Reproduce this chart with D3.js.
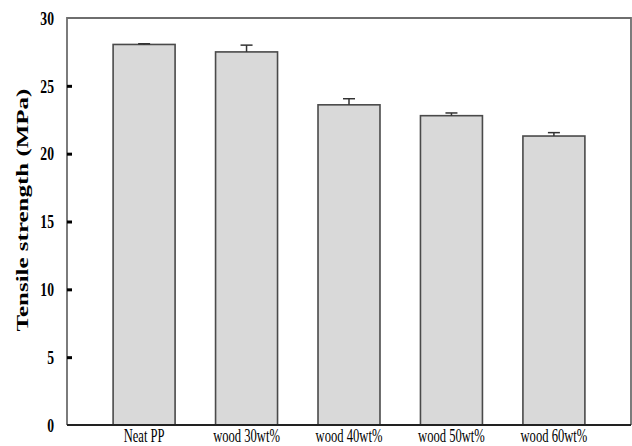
<!DOCTYPE html>
<html>
<head>
<meta charset="utf-8">
<script src="https://cdn.jsdelivr.net/npm/d3@7"></script>
<style>
  body { margin: 0; background: white; }
  svg { display: block; }
</style>
</head>
<body>
<div id="chart"></div>
<script>
const categories = ["Neat PP", "wood 30wt%", "wood 40wt%", "wood 50wt%", "wood 60wt%"];
const strength = [28.05, 27.5, 23.6, 22.8, 21.3];
const errors = [0.05, 0.5, 0.45, 0.2, 0.25];
const yTicks = [0, 5, 10, 15, 20, 25, 30];

const width = 632, height = 446;
const plotLeft = 67, plotRight = 631, plotTop = 18, plotBottom = 425;
const squash = 0.7;   // the source picture is narrowed horizontally

const svg = d3.select("#chart").append("svg")
    .attr("width", width)
    .attr("height", height)
    .style("background", "white");

const x = d3.scaleBand()
    .domain(categories)
    .range([plotLeft, plotRight])
    .paddingInner(0.395)
    .paddingOuter(0.45);

const y = d3.scaleLinear()
    .domain([0, 30])
    .range([plotBottom, plotTop]);

// bars
svg.append("g").selectAll("rect")
    .data(categories)
    .join("rect")
    .attr("x", d => x(d))
    .attr("y", (d, i) => y(strength[i]))
    .attr("width", x.bandwidth())
    .attr("height", (d, i) => y(0) - y(strength[i]))
    .style("fill", "#d9d9d9")
    .style("stroke", "#4a4a4a")
    .style("stroke-width", 1.6);

// error bars (upper only)
const err = svg.append("g").style("stroke", "#333").style("stroke-width", 1.5);
categories.forEach((c, i) => {
    const cx = x(c) + x.bandwidth() / 2;
    err.append("line")
        .attr("x1", cx).attr("x2", cx)
        .attr("y1", y(strength[i])).attr("y2", y(strength[i] + errors[i]));
    err.append("line")
        .attr("x1", cx - 6).attr("x2", cx + 6)
        .attr("y1", y(strength[i] + errors[i])).attr("y2", y(strength[i] + errors[i]));
});

// frame
svg.append("path")
    .attr("d", `M${plotLeft},${plotBottom}V${plotTop}H${plotRight}V${plotBottom}`)
    .style("fill", "none")
    .style("stroke", "#6e6e6e")
    .style("stroke-width", 1.8);
svg.append("line")
    .attr("x1", plotLeft).attr("x2", plotRight)
    .attr("y1", plotBottom).attr("y2", plotBottom)
    .style("stroke", "#222")
    .style("stroke-width", 2);

// y axis, ticks pointing inward
const yAxis = svg.append("g")
    .attr("transform", `translate(${plotLeft},0)`)
    .call(d3.axisLeft(y).tickValues(yTicks).tickSizeInner(-5).tickSizeOuter(0).tickPadding(13));
yAxis.select(".domain").remove();
yAxis.selectAll(".tick line")
    .style("stroke", "#000")
    .style("stroke-width", 3)
    .filter(d => d === 0 || d === 30).remove();
yAxis.selectAll(".tick text")
    .attr("x", -13 / squash)
    .attr("transform", `scale(${squash},1)`)
    .style("font-family", "'Liberation Serif', 'Times New Roman', serif")
    .style("font-weight", "bold")
    .style("font-size", "19.5px")
    .style("fill", "#000");

// x axis labels
const xAxis = svg.append("g")
    .attr("transform", `translate(0,${plotBottom})`)
    .call(d3.axisBottom(x).tickSize(0));
xAxis.select(".domain").remove();
xAxis.selectAll(".tick text")
    .attr("y", 0)
    .attr("dy", "0.9em")
    .attr("transform", `translate(0,1) scale(${squash},1)`)
    .style("font-family", "'Liberation Serif', 'Times New Roman', serif")
    .style("font-size", "18px")
    .style("fill", "#000");

// y axis title
svg.append("text")
    .attr("transform", `translate(22,210) scale(${squash},1) rotate(-90)`)
    .attr("text-anchor", "middle")
    .attr("dy", "0.35em")
    .style("font-family", "'Liberation Serif', 'Times New Roman', serif")
    .style("font-weight", "bold")
    .style("font-size", "25px")
    .style("fill", "#000")
    .text("Tensile strength (MPa)");
</script>
</body>
</html>
